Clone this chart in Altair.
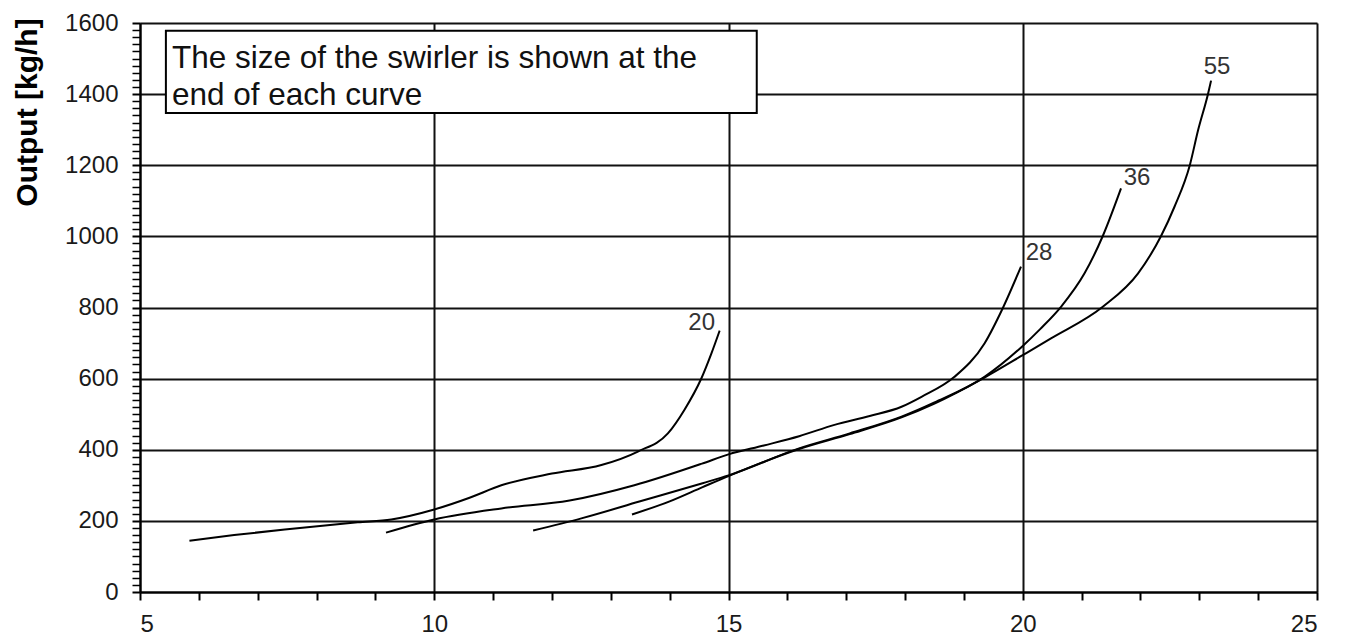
import altair as alt
import pandas as pd

# ---- data ----
size_labels = ["20", "28", "36", "55"]

s20_x = [5.84, 6.6, 7.46, 8.7, 9.27, 10.0, 10.6, 11.14, 12.0, 12.84, 13.46, 13.97, 14.25, 14.54, 14.71, 14.85]
s20_y = [144, 160, 176, 196, 204, 232, 265, 300, 333, 357, 395, 446, 512, 601, 671, 735]

s28_x = [9.18, 10.0, 11.14, 12.3, 13.4, 14.55, 15.0, 15.6, 16.2, 16.8, 17.4, 17.94, 18.28, 18.84, 19.35, 19.66, 19.97]
s28_y = [167, 204, 235, 257, 300, 361, 387, 412, 438, 470, 495, 521, 549, 605, 699, 798, 915]

s36_x = [11.68, 12.5, 13.5, 14.56, 15.0, 16.2, 17.06, 17.94, 18.5, 19.35, 20.0, 20.3, 20.65, 21.05, 21.36, 21.67]
s36_y = [173, 207, 255, 306, 328, 404, 446, 493, 533, 605, 692, 740, 802, 896, 1001, 1135]

s55_x = [13.36, 14.0, 14.56, 15.0, 16.2, 17.06, 17.94, 18.5, 19.35, 20.0, 20.48, 21.36, 21.96, 22.35, 22.58, 22.84, 22.98, 23.15, 23.2]
s55_y = [218, 255, 295, 326, 402, 444, 491, 530, 603, 666, 713, 802, 896, 1001, 1084, 1201, 1299, 1402, 1438]

note_lines = ["The size of the swirler is shown at the", "end of each curve"]
note_x = [5.44]
note_x2 = [15.48]
note_y = [1578]
note_y2 = [1347]

x_ticks = list(range(5, 26, 1))
y_ticks = list(range(0, 1601, 20))

# ---- tables ----
series = {"20": (s20_x, s20_y), "28": (s28_x, s28_y), "36": (s36_x, s36_y), "55": (s55_x, s55_y)}
rows = []
for name in size_labels:
    xs, ys = series[name]
    for i, (xv, yv) in enumerate(zip(xs, ys)):
        rows.append({"size": name, "x": xv, "y": yv, "order": i})
df = pd.DataFrame(rows)

note_df = pd.DataFrame({"x": note_x, "x2": note_x2, "y": note_y, "y2": note_y2})

FONT = "Liberation Sans"
x_scale = alt.Scale(domain=[5, 25], nice=False, zero=False)
y_scale = alt.Scale(domain=[0, 1600], nice=False, zero=False)

x_axis = alt.Axis(
    values=x_ticks, tickCount=500, format="d", title=None,
    labelExpr="datum.value % 5 === 0 ? datum.label : ''",
    labelOverlap=False, labelFont=FONT, labelFontSize=24, labelColor="#1a1a1a",
    labelPadding=12, tickSize=8, tickColor="black", tickWidth=2,
    domainColor="black", domainWidth=2,
    grid=True, gridColor="#111", gridWidth=2,
    gridOpacity={"condition": {"test": "datum.value % 5 === 0", "value": 1}, "value": 0},
)
y_axis = alt.Axis(
    values=y_ticks, tickCount=500, format="d", title="Output [kg/h]",
    labelExpr="datum.value % 200 === 0 ? datum.label : ''",
    labelOverlap=False, labelFont=FONT, labelFontSize=24, labelColor="#1a1a1a",
    labelPadding=14, tickSize=8, tickColor="black",
    tickWidth={"condition": {"test": "datum.value % 200 === 0", "value": 2}, "value": 1.5},
    domainColor="black", domainWidth=2,
    grid=True, gridColor="#111", gridWidth=2,
    gridOpacity={"condition": {"test": "datum.value % 200 === 0", "value": 1}, "value": 0},
    titleFont=FONT, titleFontSize=30, titleFontWeight="bold", titleColor="black",
    titleAngle=270, titleX=-113, titleY=89, titleAlign="center", titleBaseline="middle",
)

base = alt.Chart(df)

lines = base.mark_line(color="black", strokeWidth=2, interpolate="monotone").encode(
    x=alt.X("x:Q", scale=x_scale, axis=x_axis),
    y=alt.Y("y:Q", scale=y_scale, axis=y_axis),
    detail="size:N",
    order="order:Q",
)

box = alt.Chart(note_df).mark_rect(fill="white", stroke="black", strokeWidth=2).encode(
    x=alt.X("x:Q", scale=x_scale), x2="x2:Q",
    y=alt.Y("y:Q", scale=y_scale), y2="y2:Q",
)
box_text = alt.Chart(note_df).mark_text(
    align="left", baseline="alphabetic", dx=6, dy=37, font=FONT, fontSize=31.5,
    lineHeight=37, color="#111",
).encode(
    x=alt.X("x:Q", scale=x_scale), y=alt.Y("y:Q", scale=y_scale),
    text=alt.value(note_lines),
)

label_offsets = {"20": (-18, -8), "28": (18, -14), "36": (16, -10), "55": (6, -14)}
label_layers = []
for name in size_labels:
    dx, dy = label_offsets[name]
    xs, ys = series[name]
    end_df = pd.DataFrame({"x": [xs[-1]], "y": [ys[-1]], "label": [name]})
    label_layers.append(
        alt.Chart(end_df).mark_text(
            align="center", baseline="middle", dx=dx, dy=dy,
            font=FONT, fontSize=24, color="#333",
        ).encode(
            x=alt.X("x:Q", scale=x_scale), y=alt.Y("y:Q", scale=y_scale), text="label:N",
        )
    )

chart = alt.layer(lines, box, box_text, *label_layers).properties(
    width=1177, height=569,
    autosize=alt.AutoSizeParams(type="none"),
    padding={"left": 132, "top": 15, "right": 20, "bottom": 44},
).configure_view(stroke="black", strokeWidth=2).configure(background="white")

chart.save("out.html", embed_options={"renderer": "svg", "actions": False})
